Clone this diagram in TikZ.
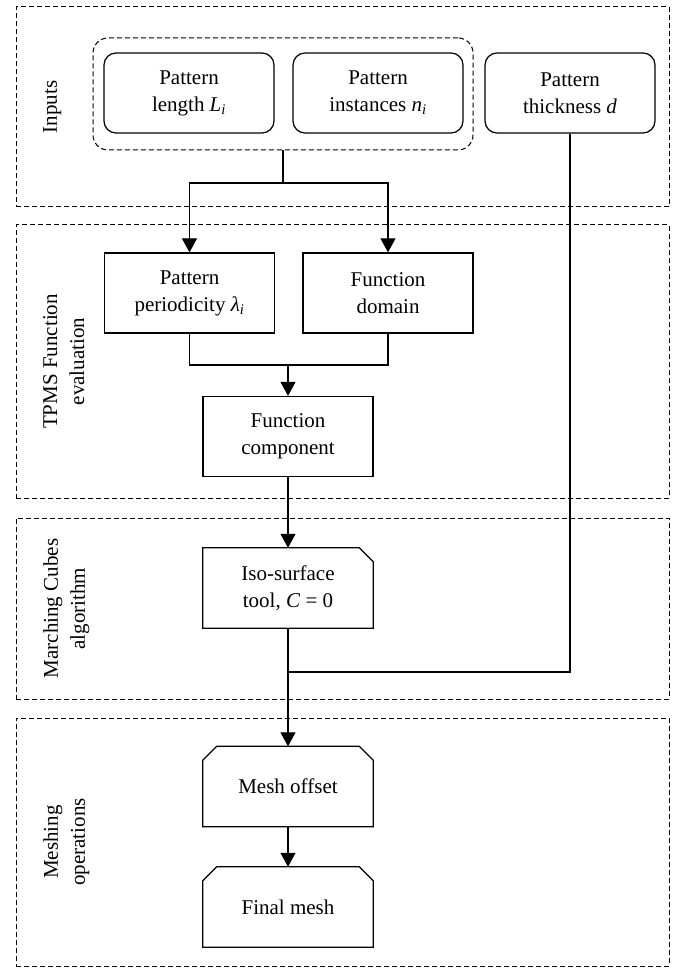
\documentclass[tikz,border=0pt]{standalone}
\usepackage{fontspec}
\setmainfont{Liberation Serif}
\usetikzlibrary{arrows.meta}
\newcommand\isub[1]{\textsubscript{\itshape #1}}
\begin{document}
\begin{tikzpicture}[x=1pt,y=-1pt,
  font=\fontsize{21}{27}\selectfont,
  sect/.style={draw, dash pattern=on 5pt off 3pt, line width=1pt, inner sep=0pt, minimum width=653pt},
  grpbox/.style={draw, dash pattern=on 5pt off 3pt, line width=1pt, rounded corners=15pt, inner sep=0pt},
  rbox/.style={draw, rounded corners=12pt, line width=1.25pt, minimum width=170pt, minimum height=80pt, align=center, inner sep=0pt},
  sbox/.style={draw, line width=1.25pt, minimum width=170pt, minimum height=80pt, align=center, inner sep=0pt},
  cbox/.style={draw=none, minimum width=170pt, minimum height=80pt, align=center, inner sep=0pt},
  outline/.style={line width=1.25pt},
  conn/.style={line width=1.2pt},
  arr/.style={conn, -{Triangle[length=14pt,width=15pt]}},
  lab/.style={rotate=90, anchor=north, align=center, inner sep=0pt}
]
\useasboundingbox (0,0) rectangle (673,968);
% sections
\node[sect, minimum height=200pt] (s1) at (342.5,107) {};
\node[sect, minimum height=273pt] (s2) at (342.5,361.5) {};
\node[sect, minimum height=181pt] (s3) at (342.5,608.5) {};
\node[sect, minimum height=248pt] (s4) at (342.5,842) {};
% section labels
\node[lab] (l1) at (43,107) {Inputs};
\node[lab] (l2) at (43,361.5) {TPMS Function\\evaluation};
\node[lab] (l3) at (43,608.5) {Marching Cubes\\algorithm};
\node[lab] (l4) at (43,842) {Meshing\\operations};
% inputs
\node[grpbox, minimum width=380pt, minimum height=112pt] (grp) at (283,94) {};
\node[rbox] (len) at (189,93) {Pattern\\length \textit{L}\isub{i}};
\node[rbox] (inst) at (378,93) {Pattern\\instances \textit{n}\isub{i}};
\node[rbox] (thick) at (570,93) {Pattern\\thickness \textit{d}};
% TPMS
\node[sbox] (peri) at (189.5,293) {Pattern\\periodicity \textit{λ}\isub{i}};
\node[sbox] (dom) at (388,293) {Function\\domain};
\node[sbox] (func) at (288,436.5) {Function\\component};
% marching cubes
\node[cbox] (iso) at (288,588) {Iso-surface\\tool, \textit{C} = 0};
\draw[outline] (iso.south west) -- (iso.north west) -- ([xshift=-14pt]iso.north east) -- ([yshift=-14pt]iso.north east) -- (iso.south east) -- cycle;
% meshing
\node[cbox] (mesh) at (288,786.5) {Mesh offset};
\draw[outline] (mesh.south west) -- ([yshift=-14pt]mesh.north west) -- ([xshift=14pt]mesh.north west) -- ([xshift=-14pt]mesh.north east) -- ([yshift=-14pt]mesh.north east) -- (mesh.south east) -- cycle;
\node[cbox] (final) at (288,907) {Final mesh};
\draw[outline] (final.south west) -- ([yshift=-14pt]final.north west) -- ([xshift=14pt]final.north west) -- ([xshift=-14pt]final.north east) -- ([yshift=-14pt]final.north east) -- (final.south east) -- cycle;
% connectors
\coordinate (split) at (283,183);
\draw[conn] (grp.south) -- (split);
\draw[arr] (split) -| (peri.north);
\draw[arr] (split) -| (dom.north);
\coordinate (merge) at (288,365);
\draw[conn] (peri.south) |- (merge);
\draw[conn] (dom.south) |- (merge);
\draw[arr] (merge) -- (func.north);
\draw[arr] (func.south) -- (iso.north);
\coordinate (join) at (288,672);
\draw[conn] (iso.south) -- (join);
\draw[conn] (thick.south) |- (join);
\draw[arr] (join) -- (mesh.north);
\draw[arr] (mesh.south) -- (final.north);
\end{tikzpicture}
\end{document}
